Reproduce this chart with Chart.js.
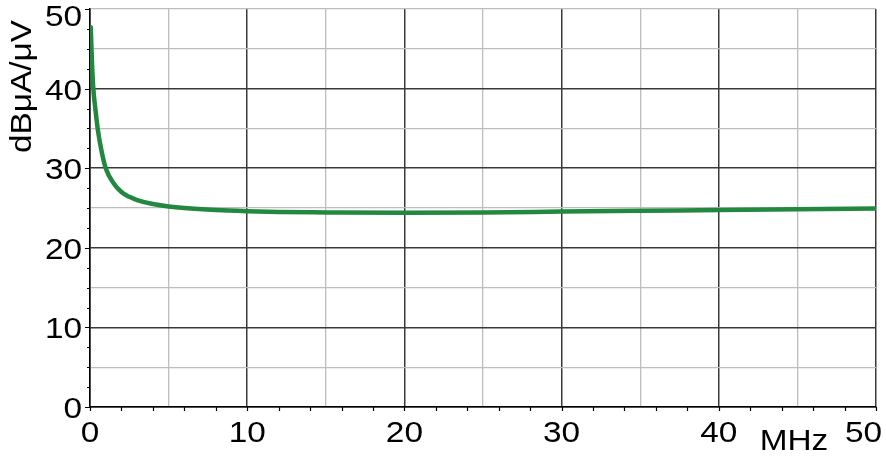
<!DOCTYPE html>
<html>
<head>
<meta charset="utf-8">
<script src="https://cdn.jsdelivr.net/npm/chart.js@4/dist/chart.umd.min.js"></script>
<style>
  html, body { margin: 0; padding: 0; background: #ffffff; }
  #wrap { width: 886px; height: 461px; position: relative; }
</style>
</head>
<body>
<div id="wrap"><canvas id="c"></canvas></div>
<script>
// ---- data ----
const freqMHz = [0.05, 0.1, 0.2, 0.35, 0.5, 0.75, 1.0, 1.5, 2.0, 2.5, 3, 4, 5, 6, 8, 10, 12, 15, 20, 25, 30, 35, 40, 45, 50];
const level   = [47.7, 44.6, 40.3, 37.3, 34.8, 32.0, 30.0, 28.1, 27.0, 26.4, 26.0, 25.5, 25.2, 25.0, 24.75, 24.6, 24.5, 24.45, 24.4, 24.45, 24.55, 24.65, 24.75, 24.85, 24.95];
const xTickLabels = ['0', '10', '20', '30', '40', '50'];
const yTickLabels = ['0', '10', '20', '30', '40', '50'];
const xTitle = 'MHz';
const yTitle = 'dBμA/μV';

const FONT = '29px "Liberation Sans", Arial, sans-serif';
const STRETCH = 1.15;

function drawStretched(ctx, text, x, y, align) {
  ctx.save();
  ctx.translate(x, y);
  ctx.scale(STRETCH, 1);
  ctx.textAlign = align;
  ctx.fillText(text, 0, 0);
  ctx.restore();
}

const axisDecor = {
  id: 'axisDecor',
  afterDraw(chart) {
    const ctx = chart.ctx;
    const xs = chart.scales.x, ys = chart.scales.y;
    const area = chart.chartArea;
    ctx.save();
    // tick marks
    ctx.strokeStyle = '#000';
    ctx.lineWidth = 1.2;
    ctx.beginPath();
    for (let v = 0; v <= 50.001; v += 2.5) {
      const py = Math.round(ys.getPixelForValue(v)) + 0.5;
      const len = (Math.abs(v % 10) < 1e-6) ? 5 : 3;
      ctx.moveTo(area.left - len, py);
      ctx.lineTo(area.left, py);
    }
    for (let v = 0; v <= 50; v += 2) {
      const px = Math.round(xs.getPixelForValue(v)) + 0.5;
      ctx.moveTo(px, area.bottom);
      ctx.lineTo(px, area.bottom + 4);
    }
    ctx.stroke();

    ctx.fillStyle = '#000';
    ctx.font = FONT;
    ctx.textBaseline = 'alphabetic';
    // x tick labels
    xTickLabels.forEach((t) => {
      const v = Number(t);
      let px = xs.getPixelForValue(v);
      const w = ctx.measureText(t).width * STRETCH;
      if (px + w / 2 > chart.width - 4) px = chart.width - 4 - w / 2;
      drawStretched(ctx, t, px, area.bottom + 34.5, 'center');
    });
    // y tick labels
    yTickLabels.forEach((t) => {
      const v = Number(t);
      let base = ys.getPixelForValue(v) + 11;
      if (base < 26) base = 26;
      ctx.save();
      ctx.translate(area.left - 8, base);
      ctx.scale(STRETCH, 1);
      ctx.textAlign = 'right';
      ctx.fillText(t, 0, 0);
      ctx.restore();
    });
    // x title
    drawStretched(ctx, xTitle, 794, 450, 'center');
    // y title (rotated)
    ctx.save();
    ctx.translate(31, 86.5);
    ctx.rotate(-Math.PI / 2);
    ctx.scale(STRETCH, 1);
    ctx.textAlign = 'center';
    ctx.textBaseline = 'alphabetic';
    ctx.fillText(yTitle, 0, 0);
    ctx.restore();
    ctx.restore();
  }
};

const MAJOR = '#3a3a3a';
const MINOR = '#bdbdbd';

new Chart(document.getElementById('c'), {
  type: 'line',
  data: {
    datasets: [{
      data: freqMHz.map((x, i) => ({ x: x, y: level[i] })),
      borderColor: '#23883f',
      borderWidth: 4.5,
      pointRadius: 0,
      fill: false,
      cubicInterpolationMode: 'monotone',
      borderCapStyle: 'round',
      borderJoinStyle: 'round'
    }]
  },
  options: {
    responsive: true,
    maintainAspectRatio: false,
    animation: false,
    events: [],
    layout: { padding: { left: 90, top: 9, right: 10, bottom: 54 } },
    plugins: { legend: { display: false }, tooltip: { enabled: false }, title: { display: false } },
    scales: {
      x: {
        type: 'linear',
        min: 0, max: 50,
        ticks: { display: false, stepSize: 1 },
        grid: {
          drawTicks: false,
          color: (c) => {
            const v = c.tick ? c.tick.value : 0;
            if (Math.abs(v % 10) < 1e-6) return MAJOR;
            if (Math.abs(v % 5) < 1e-6) return MINOR;
            return 'rgba(0,0,0,0)';
          },
          lineWidth: (c) => {
            const v = c.tick ? c.tick.value : 0;
            return (Math.abs(v % 10) < 1e-6) ? 1.5 : 1.3;
          }
        },
        border: { display: true, color: '#000', width: 1.5 }
      },
      y: {
        type: 'linear',
        min: 0, max: 50,
        ticks: { display: false, stepSize: 2.5 },
        grid: {
          drawTicks: false,
          color: (c) => {
            const v = c.tick ? c.tick.value : 0;
            if (v >= 49.99) return MINOR;
            if (Math.abs(v % 10) < 1e-6) return MAJOR;
            if (Math.abs(v % 5) < 1e-6) return MINOR;
            return 'rgba(0,0,0,0)';
          },
          lineWidth: (c) => {
            const v = c.tick ? c.tick.value : 0;
            return (Math.abs(v % 10) < 1e-6 && v < 49.99) ? 1.5 : 1.3;
          }
        },
        border: { display: true, color: '#000', width: 1.5 }
      }
    }
  },
  plugins: [axisDecor]
});
</script>
</body>
</html>
